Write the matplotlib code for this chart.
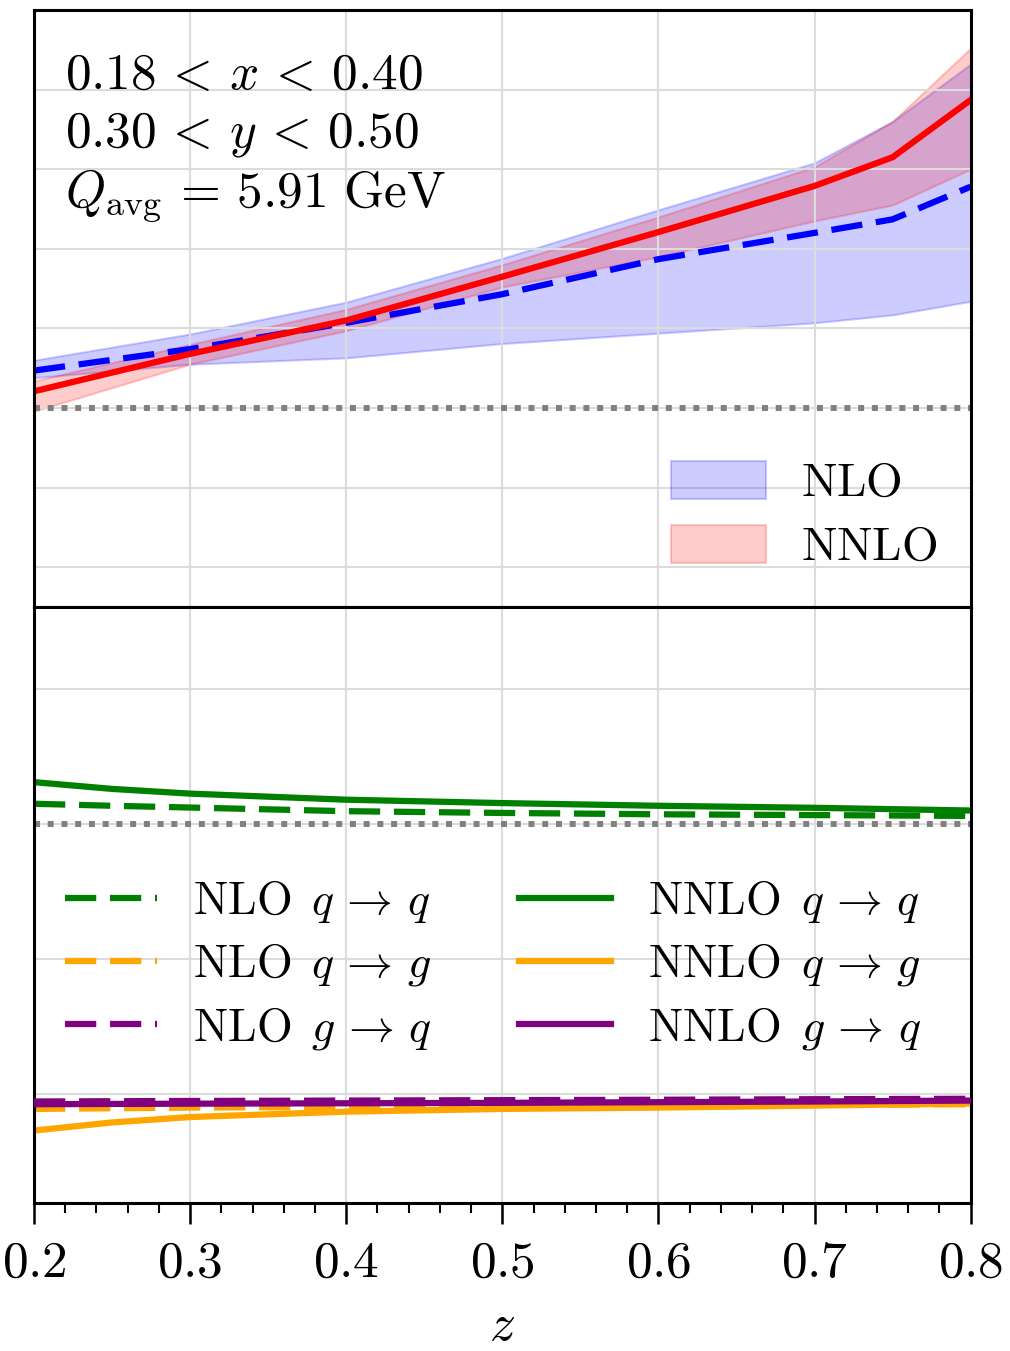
import numpy as np
import matplotlib
matplotlib.use('Agg')
import matplotlib.pyplot as plt
from matplotlib.ticker import MultipleLocator

plt.rcParams['mathtext.fontset'] = 'cm'
plt.rcParams['font.family'] = 'serif'
plt.rcParams['font.serif'] = ['DejaVu Serif']

# ---- top panel: ratio with scale bands
z_top = [0.2, 0.3, 0.4, 0.5, 0.6, 0.7, 0.75, 0.8]
nlo_mid = [1.047, 1.074, 1.107, 1.143, 1.187, 1.220, 1.237, 1.278]
nlo_hi = [1.060, 1.093, 1.133, 1.188, 1.249, 1.308, 1.360, 1.432]
nlo_lo = [1.038, 1.055, 1.063, 1.081, 1.094, 1.107, 1.117, 1.134]
nnlo_mid = [1.021, 1.068, 1.110, 1.165, 1.221, 1.279, 1.315, 1.387]
nnlo_hi = [1.034, 1.080, 1.124, 1.180, 1.240, 1.303, 1.360, 1.452]
nnlo_lo = [0.996, 1.055, 1.097, 1.152, 1.190, 1.235, 1.255, 1.300]

# ---- bottom panel: channel contributions
z_bot = [0.2, 0.25, 0.3, 0.4, 0.5, 0.6, 0.7, 0.8]
nlo_qq = [0.150, 0.135, 0.122, 0.095, 0.082, 0.072, 0.066, 0.060]
nnlo_qq = [0.310, 0.260, 0.225, 0.180, 0.155, 0.135, 0.120, 0.100]
nlo_qg = [-2.110, -2.105, -2.100, -2.095, -2.090, -2.085, -2.080, -2.075]
nnlo_qg = [-2.270, -2.210, -2.170, -2.130, -2.110, -2.100, -2.085, -2.070]
nlo_gq = [-2.055, -2.053, -2.051, -2.048, -2.045, -2.042, -2.038, -2.035]
nnlo_gq = [-2.075, -2.073, -2.071, -2.068, -2.065, -2.060, -2.055, -2.048]

fig = plt.figure(figsize=(10.10, 13.51), dpi=100)
ax1 = fig.add_axes([0.0337, 0.5507, 0.9273, 0.4419])
ax2 = fig.add_axes([0.0337, 0.1095, 0.9273, 0.4412], sharex=ax1)

grid_kw = dict(color='#dcdcdc', lw=1.5)
dash = (5, 2.2)
dot = (1.0, 1.3)

# top
ax1.fill_between(z_top, nlo_lo, nlo_hi, facecolor='blue', alpha=0.2,
                 edgecolor='blue', lw=1.5, label=r'$\mathrm{NLO}$')
ax1.fill_between(z_top, nnlo_lo, nnlo_hi, facecolor='red', alpha=0.2,
                 edgecolor='red', lw=1.5, label=r'$\mathrm{NNLO}$')
ax1.plot(z_top, nlo_mid, color='blue', lw=4.5, dashes=dash)
ax1.plot(z_top, nnlo_mid, color='red', lw=4.5)
ax1.axhline(1.0, color='gray', lw=4.3, dashes=dot)
ax1.set_ylim(0.75, 1.5)
ax1.yaxis.set_major_locator(MultipleLocator(0.1))
ax1.grid(True, **grid_kw)
ax1.text(0.033, 0.932,
         r'$0.18 \,<\, x \,<\, 0.40$' + '\n' + r'$0.30 \,<\, y \,<\, 0.50$' + '\n'
         + r'$Q_\mathrm{avg} \,=\, 5.91\ \mathrm{GeV}$',
         transform=ax1.transAxes, va='top', ha='left', fontsize=37, linespacing=1.22)
ax1.legend(loc='lower right', bbox_to_anchor=(0.985, 0.03), fontsize=34, frameon=False,
           handlelength=2.0, handleheight=0.85, borderaxespad=0.0,
           labelspacing=0.4, handletextpad=0.75)

# bottom
ax2.plot(z_bot, nlo_qq, color='green', lw=4.5, dashes=dash, label=r'$\mathrm{NLO}\ \,q \,\to\, q$')
ax2.plot(z_bot, nlo_qg, color='orange', lw=4.5, dashes=dash, label=r'$\mathrm{NLO}\ \,q \,\to\, g$')
ax2.plot(z_bot, nnlo_gq, color='purple', lw=4.5, zorder=3)
ax2.plot(z_bot, nlo_gq, color='purple', lw=4.5, dashes=dash, label=r'$\mathrm{NLO}\ \,g \,\to\, q$', zorder=3)
ax2.plot(z_bot, nnlo_qq, color='green', lw=4.5, label=r'$\mathrm{NNLO}\ \,q \,\to\, q$')
ax2.plot(z_bot, nnlo_qg, color='orange', lw=4.5, label=r'$\mathrm{NNLO}\ \,q \,\to\, g$')
ax2.plot([], [], color='purple', lw=4.5, label=r'$\mathrm{NNLO}\ \,g \,\to\, q$')
ax2.axhline(0.0, color='gray', lw=4.3, dashes=dot)
ax2.set_ylim(-2.807, 1.607)
ax2.yaxis.set_major_locator(MultipleLocator(1.0))
ax2.grid(True, **grid_kw)
ax2.legend(loc='center', bbox_to_anchor=(0.49, 0.40), ncol=2, fontsize=33, frameon=False,
           handlelength=2.0, labelspacing=0.36, handletextpad=0.8, columnspacing=1.9)

ax2.set_xlim(0.2, 0.8)
ax2.xaxis.set_minor_locator(MultipleLocator(0.02))
ticks = [0.2, 0.3, 0.4, 0.5, 0.6, 0.7, 0.8]
ax2.set_xticks(ticks)
ax2.set_xticklabels([r'$%.1f$' % t for t in ticks])
ax2.tick_params(axis='x', which='major', direction='out', length=15, width=1.8,
                labelsize=37, pad=10)
ax2.tick_params(axis='x', which='minor', direction='out', length=7.5, width=1.5)
ax2.set_xlabel(r'$z$', fontsize=37, labelpad=10)

for ax in (ax1, ax2):
    ax.tick_params(axis='y', length=0, labelleft=False)
    for s in ax.spines.values():
        s.set_linewidth(2.2)
ax1.tick_params(axis='x', which='both', length=0, labelbottom=False)

fig.savefig('out.png', dpi=100)
